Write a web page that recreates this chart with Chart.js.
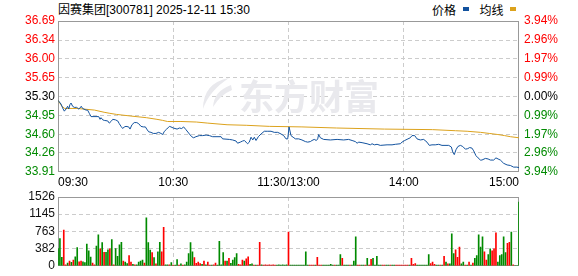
<!DOCTYPE html>
<html>
<head>
<meta charset="utf-8">
<script src="https://cdn.jsdelivr.net/npm/chart.js@4.4.1/dist/chart.umd.min.js"></script>
<style>
html,body{margin:0;padding:0;background:#fff;}
#wrap{position:relative;width:578px;height:276px;overflow:hidden;font-family:"Liberation Sans",Arial,"Noto Sans CJK SC",sans-serif;}
#title{position:absolute;left:58px;top:3px;font-size:12px;line-height:14px;color:#000;white-space:nowrap;font-family:"Liberation Sans","Noto Sans CJK SC",sans-serif;}
#legend{position:absolute;left:432px;top:3px;font-size:12px;line-height:14px;color:#000;white-space:nowrap;font-family:"Noto Sans CJK SC",sans-serif;}
#legend .sw{display:inline-block;width:6px;height:4px;vertical-align:middle;position:relative;top:-3px;}
#wm{position:absolute;left:239px;top:75px;font-size:35px;line-height:40px;font-weight:bold;color:#e9e9ed;white-space:nowrap;font-family:"Noto Sans CJK SC",sans-serif;z-index:2;}
#logo{position:absolute;left:198px;top:76px;z-index:2;}
canvas{position:absolute;left:0;z-index:1;}
#cPrice{top:0;}
#cVol{top:185px;}
</style>
</head>
<body>
<div id="wrap">
  <svg id="logo" width="36" height="36" viewBox="0 0 36 36"><path d="M31,2 Q5,7 5,33 Q11,15 31,2 Z" fill="#e9e9ed"/><path d="M33,9 Q16,15 15,31 Q22,19 34,14 Z" fill="#e9e9ed"/></svg>
  <div id="wm">东方财富</div>
  <div id="title">因赛集团[300781] 2025-12-11 15:30</div>
  <div id="legend">价格 <span class="sw" style="background:#12529e;margin:0 8px 0 4px"></span> 均线 <span class="sw" style="background:#dca21c;margin-left:4px"></span></div>
  <canvas id="cPrice" width="578" height="190"></canvas>
  <canvas id="cVol" width="578" height="91"></canvas>
</div>
<script>
// ---------- data ----------
const timeLabels = ['09:30','10:30','11:30/13:00','14:00','15:00'];
const timeTickMinutes = [0,60,120,180,240];
const prevClose = 35.30;
const priceTicks = [33.91,34.26,34.60,34.95,35.30,35.65,36.00,36.34,36.69];
const pctLabels = ['3.94%','2.96%','1.97%','0.99%','0.00%','0.99%','1.97%','2.96%','3.94%'];
const volTicks = [0,382,763,1145,1526];

// price line: [minute, price]
const pricePoints = [
[0,35.23],[1.6,35.16],[2.4,35.09],[3.3,35.03],[4.2,35.07],[5,35.12],[5.6,35.07],[6.2,35.15],[6.8,35.18],[7.6,35.12],
[8.5,35.10],[9.7,35.10],[10.8,35.07],[11.5,35.09],[12.1,35.12],[12.8,35.08],[14.6,35.05],[15.4,35.05],[16.3,34.99],[17.2,34.93],
[21.2,34.93],[21.9,34.88],[22.4,34.91],[23.3,34.87],[24.1,34.86],[25.9,34.85],[26.7,34.81],[27.6,34.84],[28.5,34.88],[29.9,34.87],
[31.1,34.85],[31.9,34.80],[32.8,34.75],[33.7,34.71],[34.5,34.74],[35.4,34.75],[36.8,34.74],[37.5,34.70],[38.5,34.78],[39.7,34.82],
[41,34.82],[42,34.80],[43.2,34.75],[44.4,34.74],[45.5,34.74],[46.2,34.70],[47.2,34.65],[48.4,34.64],[49.6,34.62],[51,34.62],
[52.4,34.64],[53.6,34.62],[54.5,34.60],[55.4,34.66],[56.6,34.70],[58,34.75],[58.8,34.74],[60,34.72],[62,34.70],[63.2,34.72],
[64.4,34.71],[65.4,34.74],[66.6,34.69],[68.4,34.61],[69.6,34.56],[70.6,34.54],[71.8,34.56],[73.6,34.58],[75.3,34.58],[77.1,34.59],
[78.8,34.58],[80.5,34.56],[84.9,34.56],[85.7,34.52],[89.2,34.51],[90.9,34.50],[92.7,34.48],[93.5,34.44],[94.9,34.46],[96.1,34.48],
[97,34.49],[97.9,34.46],[98.7,34.43],[99.6,34.46],[100.5,34.55],[101.4,34.50],[102.2,34.55],[103.1,34.49],[104.3,34.56],[105.7,34.61],
[107.4,34.66],[109.2,34.66],[110.9,34.66],[112.6,34.64],[114.4,34.64],[116.1,34.61],[117.5,34.58],[118.7,34.52],[119.6,34.52],[120.3,34.74],
[121.3,34.58],[122.4,34.55],[123.6,34.52],[125.3,34.52],[127,34.50],[128.8,34.47],[130,34.46],[131.4,34.47],[132.2,34.49],[133.4,34.51],
[134.5,34.49],[135.2,34.52],[135.7,34.60],[136.6,34.54],[138.3,34.51],[141.8,34.50],[145.3,34.51],[148.7,34.50],[151.3,34.51],[153.1,34.49],
[154.8,34.47],[155.7,34.44],[156.6,34.46],[158.3,34.45],[160.9,34.43],[162.6,34.41],[163.5,34.43],[164.7,34.41],[166.1,34.42],[167.8,34.40],
[171.3,34.41],[173.9,34.41],[175.6,34.42],[178.2,34.43],[179.1,34.46],[180.5,34.49],[182.2,34.52],[183.4,34.54],[184.3,34.58],[185.7,34.58],
[186.9,34.52],[188.6,34.50],[190.4,34.51],[192.1,34.46],[193.3,34.40],[194.7,34.41],[196.4,34.41],[198.2,34.42],[199.9,34.40],[203.4,34.40],
[204.8,34.37],[205.5,34.28],[206.3,34.23],[207.2,34.32],[208.2,34.38],[209.5,34.40],[210.7,34.38],[212.1,34.33],[213.3,34.34],[214.3,34.36],
[215.5,34.35],[216.4,34.30],[217.6,34.21],[218.7,34.17],[219.9,34.13],[220.7,34.13],[222.5,34.16],[223.9,34.15],[225.1,34.13],[226.8,34.13],
[228,34.17],[229.1,34.15],[230.3,34.13],[232,34.07],[233.8,34.04],[235.5,34.03],[237.2,34.00],[238.9,34.00],[240,33.99]
];

// average line: [minute, price]
const avgPoints = [
[0,35.23],[2,35.12],[3.5,35.08],[10,35.08],[19,35.05],[24,35.01],[27,34.99],[30.5,34.97],[38,34.94],[46,34.91],
[51.5,34.88],[54.5,34.86],[57,34.84],[64,34.84],[72,34.83],[78,34.81],[88,34.78],[98,34.77],[110,34.75],[127,34.74],
[145,34.72],[170,34.70],[195,34.69],[207,34.67],[213,34.66],[220,34.64],[224.5,34.62],[229,34.60],[232.5,34.58],[235.5,34.56],[240,34.54]
];

// per-minute volume (241 minutes)
const volumes = [
380,604,187,791,20,62,104,76,125,200,
402,90,104,90,70,479,333,194,62,20,
437,687,375,513,298,298,354,375,583,20,
382,208,465,520,104,83,49,229,83,35,
20,20,83,104,125,62,1062,513,347,291,
180,42,312,520,312,853,20,20,20,70,
15,15,139,15,42,15,20,83,270,513,
312,180,55,83,49,35,104,20,83,15,
15,20,62,15,541,20,291,104,104,166,
55,125,180,270,35,20,125,104,152,201,
35,42,15,15,15,520,20,15,20,15,
20,15,20,15,15,20,15,20,15,20,
750,15,15,15,15,15,15,15,15,312,
15,15,15,15,15,187,15,15,15,15,
15,15,30,15,15,15,15,250,166,15,
15,15,15,15,104,645,15,15,15,15,
15,166,15,145,166,15,208,15,15,15,
15,15,15,15,15,15,15,15,15,15,
15,15,15,15,166,35,49,15,15,15,
15,15,15,250,49,83,35,15,15,15,
15,208,83,42,42,708,270,354,187,416,
42,83,15,15,83,15,62,166,229,687,
416,645,312,125,250,375,333,375,729,83,
229,250,645,291,500,520,750,20,0,0,
1416
];
// r = up minute, g = down minute
const volDirs = (
"gggrrgrgrg"+"grrgggggrr"+"ggrgrggrgr"+"ggggrggrrg"+"rggggrgggr"+
"grggrrggrg"+"rggrgrgggg"+"grrrrgrgrr"+"grrggggrgr"+"ggggrrrgrr"+
"ggrgrrgrrr"+"rrrrgggggg"+"rggggggggg"+"grrrgrrrgg"+"ggggrgggrg"+
"ggrgggrrgg"+"rgrrgggggr"+"rggrggrrrr"+"rrrgrrrggg"+"ggggrrrggr"+
"grgrgggrrr"+"ggrgrgrggg"+"ggrrggrrrg"+"ggggrrgrgg"+"g").split('');

// ---------- style ----------
const RED = '#ff0000', GREEN = '#008a00', BLACK = '#000000';
const GRID = '#cccccc', FRAME = '#999999';
const FONT = {family: '"Liberation Sans", Arial, sans-serif', size: 12};

const framePlugin = {
  id: 'frame',
  beforeDatasetsDraw(chart) {
    const a = chart.chartArea, c = chart.ctx;
    c.save();
    c.strokeStyle = FRAME; c.lineWidth = 1; c.setLineDash([]);
    c.strokeRect(Math.round(a.left) + 0.5, Math.round(a.top) + 0.5,
                 Math.round(a.right - a.left) - 1, Math.round(a.bottom - a.top) - 1);
    c.restore();
  }
};

function innerGrid(minV, maxV) {
  return ctx => (Math.abs(ctx.tick.value - minV) < 1e-6 || Math.abs(ctx.tick.value - maxV) < 1e-6) ? 'rgba(0,0,0,0)' : GRID;
}
function priceColor(v) {
  if (Math.abs(v - prevClose) < 0.001) return BLACK;
  return v > prevClose ? RED : GREEN;
}

const xScaleBase = {
  type: 'linear', min: 0, max: 240, offset: false,
  afterBuildTicks: s => { s.ticks = timeTickMinutes.map(v => ({value: v})); },
  grid: {color: innerGrid(0, 240), drawTicks: false, offset: false},
  border: {display: false, dash: [4, 3]}
};

new Chart(document.getElementById('cPrice'), {
  type: 'line',
  data: {
    datasets: [
      {data: pricePoints.map(p => ({x: p[0], y: p[1]})), borderColor: '#12529e', borderWidth: 1, pointRadius: 0, tension: 0, yAxisID: 'y'},
      {data: avgPoints.map(p => ({x: p[0], y: p[1]})), borderColor: '#dca21c', borderWidth: 1, pointRadius: 0, tension: 0, yAxisID: 'y'}
    ]
  },
  options: {
    responsive: false, animation: false, devicePixelRatio: 1,
    layout: {padding: {top: 21, left: 0, right: 0, bottom: 0}},
    plugins: {legend: {display: false}, tooltip: {enabled: false}, title: {display: false}},
    scales: {
      x: Object.assign({}, xScaleBase, {
        afterFit: s => { s.height = 18; },
        ticks: {
          autoSkip: false, maxRotation: 0, align: 'inner', padding: 3, color: BLACK, font: FONT,
          callback: v => timeLabels[timeTickMinutes.indexOf(v)]
        }
      }),
      y: {
        type: 'linear', position: 'left', min: priceTicks[0], max: priceTicks[priceTicks.length - 1],
        afterBuildTicks: s => { s.ticks = priceTicks.map(v => ({value: v})); },
        afterFit: s => { s.width = 58; },
        grid: {color: innerGrid(priceTicks[0], priceTicks[priceTicks.length - 1]), drawTicks: false},
        border: {display: false, dash: [4, 3]},
        ticks: {padding: 3, font: FONT, color: ctx => priceColor(ctx.tick.value), callback: v => v.toFixed(2)}
      },
      y2: {
        type: 'linear', position: 'right', min: priceTicks[0], max: priceTicks[priceTicks.length - 1],
        afterBuildTicks: s => { s.ticks = priceTicks.map(v => ({value: v})); },
        afterFit: s => { s.width = 59; },
        grid: {display: false, drawTicks: false},
        border: {display: false},
        ticks: {padding: 5, font: FONT, color: ctx => priceColor(ctx.tick.value),
                callback: (v, i) => pctLabels[i]}
      }
    }
  },
  plugins: [framePlugin]
});

new Chart(document.getElementById('cVol'), {
  type: 'bar',
  data: {
    datasets: [{
      data: volumes.map((v, i) => ({x: i, y: v})),
      backgroundColor: volDirs.map(d => d === 'r' ? RED : GREEN),
      barThickness: 1, borderWidth: 0, grouped: false
    }]
  },
  options: {
    responsive: false, animation: false, devicePixelRatio: 1,
    layout: {padding: {top: 12, left: 0, right: 59, bottom: 0}},
    plugins: {legend: {display: false}, tooltip: {enabled: false}, title: {display: false}},
    scales: {
      x: Object.assign({}, xScaleBase, {
        afterFit: s => { s.height = 7; },
        ticks: {display: false}
      }),
      y: {
        type: 'linear', position: 'left', min: 0, max: volTicks[volTicks.length - 1],
        afterBuildTicks: s => { s.ticks = volTicks.map(v => ({value: v})); },
        afterFit: s => { s.width = 58; },
        grid: {color: innerGrid(0, volTicks[volTicks.length - 1]), drawTicks: false},
        border: {display: false, dash: [4, 3]},
        ticks: {padding: 3, font: FONT, color: '#111111', callback: v => String(v)}
      }
    }
  },
  plugins: [framePlugin]
});
</script>
</body>
</html>
